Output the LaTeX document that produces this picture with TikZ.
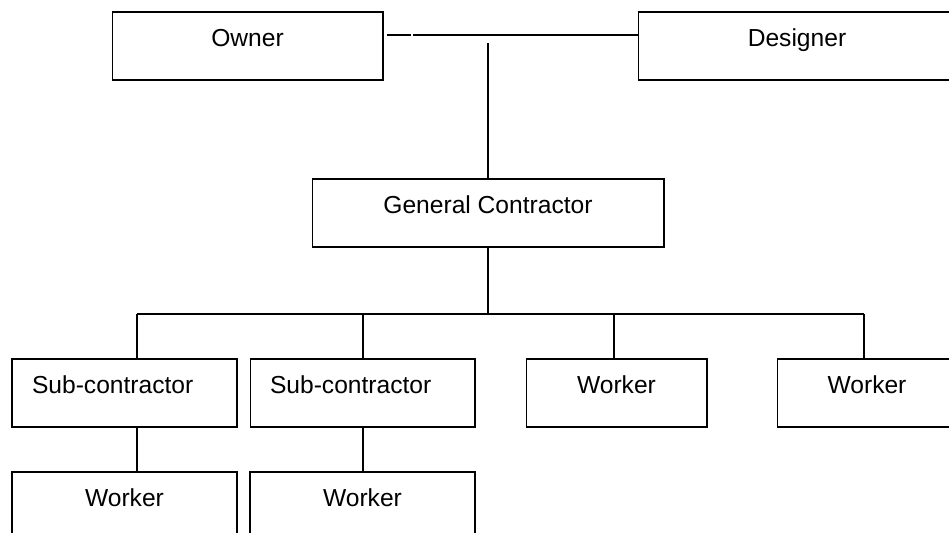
\documentclass[tikz,border=0pt]{standalone}
\usepackage{fontspec}
\setmainfont{Liberation Sans}
\tikzset{
  orgbox/.style={draw, rectangle, inner sep=0pt, line width=0.6pt,
    text height=19.6pt, text depth=19.1pt, minimum height=1.36cm,
    font=\fontsize{14}{16}\selectfont},
  subbox/.style={orgbox, inner xsep=0.4cm, text width=3.7cm, align=left},
  link/.style={line width=0.6pt}
}
\begin{document}
\begin{tikzpicture}[x=0.02cm, y=-0.02cm]
	\useasboundingbox (0,0) rectangle (949,533);
	\clip (0,0) rectangle (949,533);

	% Owner and designer
	\node[orgbox, minimum width=5.42cm] (owner) at (247.5,46) {Owner};
	\node[orgbox, minimum width=6.36cm] (designer) at (797,46) {Designer};
	\coordinate (brk) at (412,35);
	\draw[link] ([xshift=2pt]owner.east |- brk) -- ([xshift=-0.5pt]brk);
	\draw[link] ([xshift=0.5pt]brk) -- (designer.west |- brk);

	% General contractor
	\node[orgbox, minimum width=7.04cm] (gc) at (488,213) {General Contractor};
	\draw[link] (gc.north) -- (gc.north |- 0,43);

	% Bus
	\coordinate (busL) at (137,314);
	\coordinate (busM) at (363,314);
	\coordinate (busW) at (614,314);
	\coordinate (busR) at (864,314);
	\draw[link] (busL) -- (busR);
	\draw[link] (gc.south) -- (gc.south |- busL);

	% Second row
	\node[subbox] (sub1) at (124.5,393) {Sub-contractor};
	\node[subbox] (sub2) at (362.5,393) {Sub-contractor};
	\node[orgbox, minimum width=3.62cm] (wk3) at (616.5,393) {Worker};
	\node[orgbox, minimum width=3.6cm] (wk4) at (867,393) {Worker};
	\draw[link] (busL) -- (busL |- sub1.north);
	\draw[link] (busM) -- (busM |- sub2.north);
	\draw[link] (busW) -- (busW |- wk3.north);
	\draw[link] (busR) -- (busR |- wk4.north);

	% Third row
	\node[orgbox, minimum width=4.5cm] (wk1) at (124.5,506) {Worker};
	\node[orgbox, minimum width=4.5cm] (wk2) at (362.5,506) {Worker};
	\draw[link] (busL |- sub1.south) -- (busL |- wk1.north);
	\draw[link] (busM |- sub2.south) -- (busM |- wk2.north);
\end{tikzpicture}
\end{document}
